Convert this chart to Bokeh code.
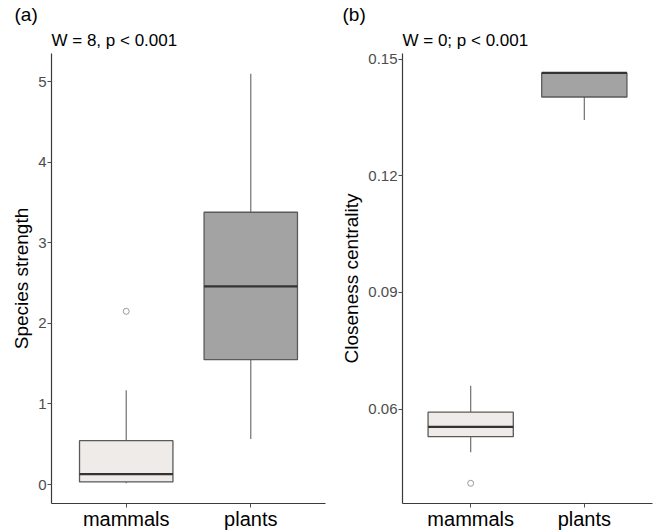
from bokeh.plotting import figure
from bokeh.models import FactorRange, Range1d, FixedTicker, Title
from bokeh.layouts import row
from bokeh.embed import file_html
from bokeh.resources import INLINE

groups = ["mammals", "plants"]
fills = ["#EEEBE8", "#A3A3A3"]

# panel (a): species strength
a_q1 = [0.033, 1.55]
a_med = [0.13, 2.46]
a_q3 = [0.545, 3.38]
a_lo = [0.015, 0.565]
a_hi = [1.17, 5.10]
a_out_group = ["mammals"]
a_out_val = [2.15]
a_ticks = [0, 1, 2, 3, 4, 5]

# panel (b): closeness centrality
b_q1 = [0.0529, 0.1403]
b_med = [0.0554, 0.1465]
b_q3 = [0.0592, 0.1465]
b_lo = [0.0489, 0.1344]
b_hi = [0.0660, 0.1465]
b_out_group = ["mammals"]
b_out_val = [0.0409]
b_ticks = [0.06, 0.09, 0.12, 0.15]

FONT = "Liberation Sans"


def make_panel(letter, stat, ylabel, q1, med, q3, lo, hi, outg, outv, ticks,
               y0, y1, width, left, right, letter_offset):
    p = figure(width=width, height=532, output_backend="svg", toolbar_location=None,
               x_range=FactorRange(factors=groups, range_padding=0.1),
               y_range=Range1d(y0, y1),
               min_border_left=left, min_border_right=right,
               min_border_top=53, min_border_bottom=28)
    # top line: panel letter
    p.title.text = letter
    p.title.align = "left"
    p.title.offset = letter_offset
    p.title.standoff = 0
    p.title.text_font = FONT
    p.title.text_font_size = "19px"
    p.title.text_font_style = "normal"
    p.title.text_color = "#000000"
    p.title.text_line_height = 0.8
    # line next to the frame: test statistic
    p.add_layout(Title(text=stat, align="left", offset=0, standoff=8,
                       text_font=FONT, text_font_size="17px", text_line_height=0.8,
                       text_font_style="normal", text_color="#000000"), "above")

    # whiskers
    p.segment(x0=groups, x1=groups, y0=q3, y1=hi, line_color="#707070", line_width=1.2)
    p.segment(x0=groups, x1=groups, y0=q1, y1=lo, line_color="#707070", line_width=1.2)
    # boxes
    p.vbar(x=groups, width=0.75, top=q3, bottom=q1, fill_color=fills,
           line_color="#5a5a5a", line_width=1.3)
    # medians
    p.vbar(x=groups, width=0.75, top=med, bottom=med, fill_alpha=0,
           line_color="#333333", line_width=2.2)
    # outliers
    p.scatter(x=outg, y=outv, marker="circle", size=6, fill_color="white",
              line_color="#9a9a9a", line_width=1)

    p.xgrid.visible = False
    p.ygrid.visible = False
    p.outline_line_color = None
    p.background_fill_color = "white"
    p.border_fill_color = "white"

    p.yaxis.ticker = FixedTicker(ticks=ticks)
    p.yaxis.axis_label = ylabel
    p.yaxis.axis_label_text_font = FONT
    p.yaxis.axis_label_text_font_size = "19px"
    p.yaxis.axis_label_text_font_style = "normal"
    p.yaxis.axis_label_text_color = "#000000"
    p.yaxis.axis_label_standoff = 3
    p.yaxis.major_label_text_font = FONT
    p.yaxis.major_label_text_font_size = "15px"
    p.yaxis.major_label_text_color = "#4D4D4D"
    p.yaxis.major_label_standoff = 1

    p.xaxis.major_label_text_font = FONT
    p.xaxis.major_label_text_font_size = "20px"
    p.xaxis.major_label_text_color = "#000000"
    p.xaxis.major_label_standoff = 0

    for ax in (p.xaxis, p.yaxis):
        ax.axis_line_color = "#3a3a3a"
        ax.axis_line_width = 1.2
        ax.major_tick_line_color = "#4d4d4d"
        ax.major_tick_out = 4
        ax.major_tick_in = 0
        ax.minor_tick_line_color = None
    return p


pa = make_panel("(a)", "W = 8, p < 0.001", "Species strength",
                a_q1, a_med, a_q3, a_lo, a_hi, a_out_group, a_out_val, a_ticks,
                -0.235, 5.35, 338, 51, 13, -37)
pb = make_panel("(b)", "W = 0; p < 0.001", "Closeness centrality",
                b_q1, b_med, b_q3, b_lo, b_hi, b_out_group, b_out_val, b_ticks,
                0.0357, 0.1515, 316, 60, 2, -60)

layout = row(pa, pb)
open("out.html", "w").write(file_html(layout, INLINE))
